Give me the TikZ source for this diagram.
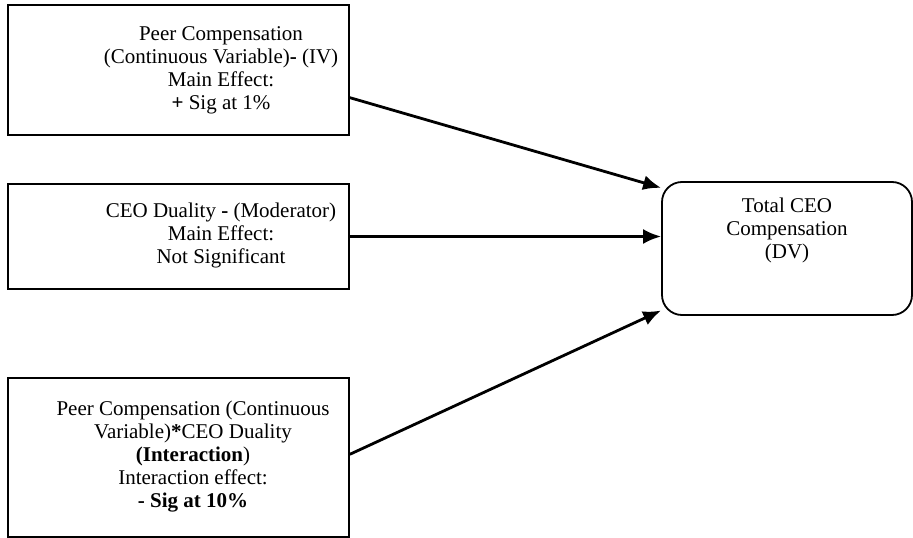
\documentclass[tikz,border=0pt]{standalone}
\usepackage{fontspec}
\setmainfont{Liberation Serif}
\usetikzlibrary{arrows.meta,calc}
\begin{document}
\begin{tikzpicture}[x=1pt,y=-1pt,
  box/.style={draw,line width=1.8pt,rectangle,inner sep=0pt},
  dvbox/.style={draw,line width=1.8pt,rectangle,rounded corners=20pt,inner sep=0pt},
  txt/.style={align=center,inner sep=0pt,font=\fontsize{21}{23}\selectfont},
  link/.style={line width=2.8pt,-{Latex[length=18pt,width=15pt]}}]
  \useasboundingbox (0,0) rectangle (913,538);
  % boxes
  \node[box,minimum width=341pt,minimum height=130pt] (iv) at (178.5,70) {};
  \node[box,minimum width=341pt,minimum height=105pt] (mod) at (178.5,236.5) {};
  \node[box,minimum width=341pt,minimum height=159pt] (int) at (178.5,457.5) {};
  \node[dvbox,minimum width=250pt,minimum height=133pt] (dv) at (787,248.5) {};
  % texts
  \node[txt] (ivt) at (221,70) {Peer Compensation\\(Continuous Variable)\textbf{-} (IV)\\Main Effect:\\\textbf{+} Sig at 1\%};
  \node[txt] (modt) at (221,235) {CEO Duality \textbf{-} (Moderator)\\Main Effect:\\Not Significant};
  \node[txt] (intt) at (193,457) {Peer Compensation (Continuous\\Variable)\textbf{*}CEO Duality\\\textbf{(Interaction})\\Interaction effect:\\\textbf{- Sig at 10\%}};
  \node[txt] (dvt) at (787,230) {Total CEO\\Compensation\\(DV)};
  % connectors
  \draw[link] ($(iv.north east)!0.71!(iv.south east)$) -- ($(dv.north west)!0.05!(dv.south west)$);
  \draw[link] ($(mod.north east)!0.5!(mod.south east)$) -- (dv.west |- {$(mod.north east)!0.5!(mod.south east)$});
  \draw[link] ($(int.north east)!0.48!(int.south east)$) -- ($(dv.north west)!0.96!(dv.south west)$);
\end{tikzpicture}
\end{document}
